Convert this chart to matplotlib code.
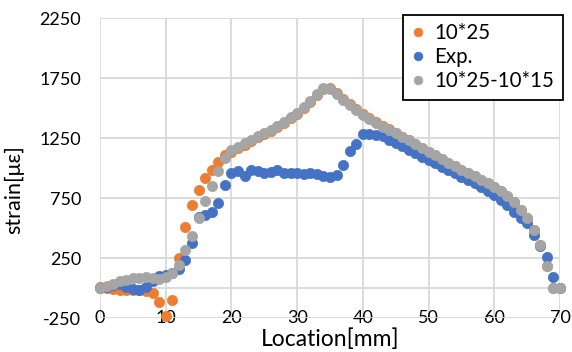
import matplotlib
matplotlib.use("Agg")
import matplotlib.pyplot as plt
import numpy as np

location = list(range(0, 71))

exp_strain = [5, 12, 25, 38, 10, -5, -10, 15, 65, 100, 115, 130, 157, 240, 380, 596, 612, 640, 707, 865,
              960, 978, 936, 984, 976, 958, 970, 984, 962, 958, 958, 953, 962, 953, 938, 925, 944, 1025, 1148, 1205,
              1288, 1284, 1278, 1266, 1240, 1210, 1183, 1155, 1125, 1097, 1069, 1042, 1014, 986, 958, 930, 905, 875, 845, 812,
              778, 738, 694, 640, 590, 542, 444, 355, 261, 97, 5]

sim_10x25_10x15 = [5, 20, 40, 58, 72, 82, 90, 92, 88, 80, 92, 125, 195, 318, 440, 587, 726, 851, 976, 1090,
                   1151, 1180, 1208, 1240, 1268, 1295, 1322, 1355, 1390, 1428, 1465, 1510, 1565, 1620, 1668, 1662, 1620, 1572, 1530, 1488,
                   1448, 1410, 1375, 1345, 1318, 1292, 1262, 1232, 1200, 1170, 1139, 1108, 1078, 1048, 1017, 986, 960, 932, 905, 877,
                   847, 812, 772, 720, 652, 586, 486, 361, 186, 2, 2]

sim_10x25 = [10, 0, -5, -10, -12, -15, -18, -25, -40, -116, -227, -99, 254, 512, 698, 823, 921, 990, 1051, 1107,
             1140, 1170, 1198, 1230, 1258, 1285, 1312, 1345, 1380, 1418, 1455, 1500, 1555, 1610, 1660, 1668, 1628, 1580, 1538, 1496,
             1456, 1418, 1383, 1353, 1325, 1292, 1262, 1232, 1200, 1170, 1139, 1108, 1078, 1048, 1017, 986, 960, 932, 905, 877,
             847, 812, 772, 720, 652, 586, 486, 361, 186, 2, 2]

series_names = ["10*25", "Exp.", "10*25-10*15"]
colors = ["#ED7D31", "#4472C4", "#A5A5A5"]

x_ticks = [0, 10, 20, 30, 40, 50, 60, 70]
y_ticks = [-250, 250, 750, 1250, 1750, 2250]

plt.rcParams['font.family'] = ['Lato', 'DejaVu Sans']
plt.rcParams['axes.unicode_minus'] = False

fig = plt.figure(figsize=(5.72, 3.52), dpi=100)
W, H = 572, 352
left_px, right_px, top_px, bot_px = 100, 560, 18.3, 318.3
ax = fig.add_axes([left_px / W, 1 - bot_px / H, (right_px - left_px) / W, (bot_px - top_px) / H])

grid_c = "#D9D9D9"
ax.set_xlim(0, 70)
ax.set_ylim(-250, 2250)
ax.set_xticks(x_ticks)
ax.set_yticks(y_ticks)
ax.grid(True, color=grid_c, linewidth=1.3, zorder=0)
ax.set_axisbelow(True)
for s in ax.spines.values():
    s.set_visible(False)
ax.axhline(0, color=grid_c, linewidth=1.3, zorder=0.5)

ms = 7.4
for name, ys, c in zip(series_names, [sim_10x25, exp_strain, sim_10x25_10x15], colors):
    ax.plot(location, ys, linestyle="none", marker="o", markersize=ms, color=c,
            markeredgecolor=c, markeredgewidth=0.5, label=name, zorder=3, clip_on=False)

ax.tick_params(axis="both", length=0, labelsize=13, colors="black")
ax.tick_params(axis="y", pad=13.5)
ax.tick_params(axis="x", pad=-6)

ax.set_xlabel("Location[mm]", fontsize=16.5)
ax.xaxis.set_label_coords(0.5, -0.035)
ax.xaxis.label.set_va("top")
ax.set_ylabel("strain[με]", fontsize=15.5)
ax.yaxis.set_label_coords(-0.165, 0.428)

leg = ax.legend(loc="upper right", bbox_to_anchor=(562.5 / W, 1 - 15 / H),
                bbox_transform=fig.transFigure, borderaxespad=0, frameon=True,
                fancybox=False, fontsize=14.8, handlelength=0.7, handletextpad=0.45,
                labelspacing=0.2, borderpad=0.4, markerscale=0.85)
leg.get_frame().set_edgecolor("black")
leg.get_frame().set_linewidth(1.3)
leg.get_frame().set_facecolor("white")
leg.get_frame().set_alpha(1)
leg.set_zorder(10)

fig.savefig("out.png", dpi=100)
